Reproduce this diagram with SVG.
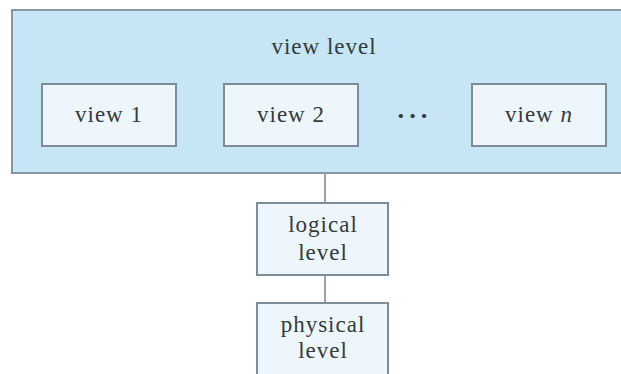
<svg xmlns="http://www.w3.org/2000/svg" width="621" height="374" viewBox="0 0 621 374">
<style>
.outer{fill:#c6e6f5;stroke:#8497a2;stroke-width:2}
.box{fill:#edf6fc;stroke:#7d8d97;stroke-width:2}
.t{font-family:"Liberation Serif","Times New Roman",serif;font-size:23px;letter-spacing:1px;fill:#353a3d;text-anchor:middle}
.conn{stroke:#9aa3a8;stroke-width:2;fill:none}
</style>
<rect x="0" y="0" width="621" height="374" fill="#ffffff"/>
<g id="connectors">
<line class="conn" x1="325" y1="173" x2="325" y2="203"/>
<line class="conn" x1="325" y1="275" x2="325" y2="303"/>
</g>
<g id="view-level">
<rect class="outer" x="12" y="10" width="620" height="163"/>
<text class="t" x="324" y="54">view level</text>
</g>
<g id="view1">
<rect class="box" x="42" y="84" width="134" height="62"/>
<text class="t" x="109" y="122">view 1</text>
</g>
<g id="view2">
<rect class="box" x="224" y="84" width="134" height="62"/>
<text class="t" x="291" y="122">view 2</text>
</g>
<g id="ellipsis">
<text class="t" x="414" y="124" style="font-size:26px;letter-spacing:3px;font-weight:bold">···</text>
</g>
<g id="viewn">
<rect class="box" x="472" y="84" width="134" height="62"/>
<text class="t" x="539" y="122">view <tspan font-style="italic">n</tspan></text>
</g>
<g id="logical-level">
<rect class="box" x="257" y="203" width="131" height="72"/>
<text class="t" x="323" y="232">logical</text>
<text class="t" x="323" y="260">level</text>
</g>
<g id="physical-level">
<rect class="box" x="257" y="303" width="131" height="80"/>
<text class="t" x="323" y="332">physical</text>
<text class="t" x="323" y="358">level</text>
</g>
</svg>
